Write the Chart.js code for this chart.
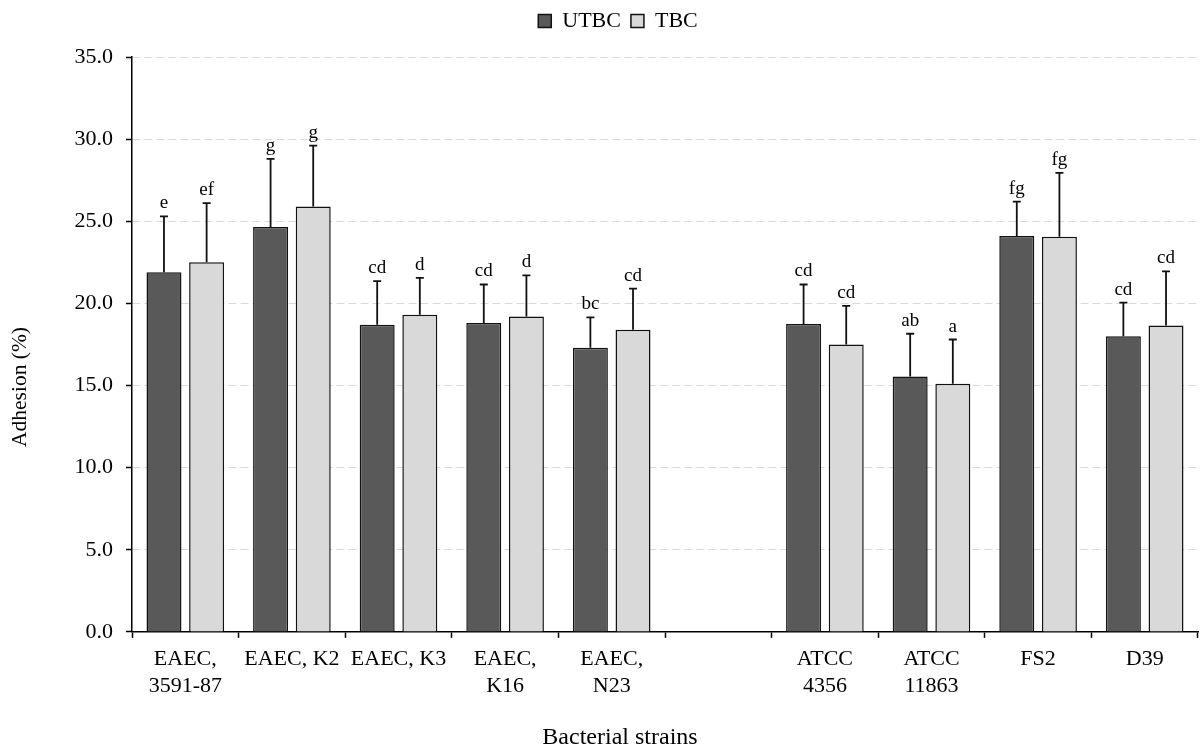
<!DOCTYPE html>
<html>
<head>
<meta charset="utf-8">
<script src="https://cdn.jsdelivr.net/npm/chart.js@4/dist/chart.umd.min.js"></script>
<style>
  body { margin: 0; background: #fff; }
  #wrap { width: 1203px; height: 751px; }
</style>
</head>
<body>
<div id="wrap"><canvas id="adhesionChart" width="1203" height="751"></canvas></div>
<script>
// strains (one empty slot separates the two groups)
const strains = [
    ['EAEC,', '3591-87'], 'EAEC, K2', 'EAEC, K3', ['EAEC,', 'K16'], ['EAEC,', 'N23'],
    '', ['ATCC', '4356'], ['ATCC', '11863'], 'FS2', 'D39'
];

// mean adhesion (%)
const utbcValues = [21.9, 24.65, 18.7, 18.8, 17.3, null, 18.75, 15.55, 24.1, 18.0];
const tbcValues  = [22.5, 25.9, 19.3, 19.2, 18.4, null, 17.5, 15.1, 24.05, 18.65];

// upper error (SD) added on top of each bar
const utbcErrors = [3.4, 4.15, 2.65, 2.35, 1.85, null, 2.4, 2.6, 2.1, 2.05];
const tbcErrors  = [3.6, 3.7, 2.25, 2.5, 2.5, null, 2.35, 2.7, 3.9, 3.3];

// significance letters
const utbcLetters = ['e', 'g', 'cd', 'cd', 'bc', '', 'cd', 'ab', 'fg', 'cd'];
const tbcLetters  = ['ef', 'g', 'd', 'd', 'cd', '', 'cd', 'a', 'fg', 'cd'];

const yTicks = [0, 5, 10, 15, 20, 25, 30, 35];

const yTitle = 'Adhesion (%)';
const xTitle = 'Bacterial strains';

const serif = '"Liberation Serif", "DejaVu Serif", serif';

// error bars + letters above them
const errorBarPlugin = {
    id: 'errorBars',
    afterDatasetsDraw(chart) {
        const ctx = chart.ctx;
        const yScale = chart.scales.y;
        const errs = [utbcErrors, tbcErrors];
        const letters = [utbcLetters, tbcLetters];
        chart.data.datasets.forEach((ds, di) => {
            const meta = chart.getDatasetMeta(di);
            meta.data.forEach((bar, i) => {
                const v = ds.data[i];
                if (v === null || v === undefined) return;
                const top = yScale.getPixelForValue(v);
                const errTop = yScale.getPixelForValue(v + errs[di][i]);
                ctx.save();
                ctx.strokeStyle = '#111';
                ctx.lineWidth = 1.8;
                ctx.beginPath();
                ctx.moveTo(bar.x, top);
                ctx.lineTo(bar.x, errTop);
                ctx.moveTo(bar.x - 4, errTop);
                ctx.lineTo(bar.x + 4, errTop);
                ctx.stroke();
                ctx.fillStyle = '#000';
                ctx.font = '19px ' + serif;
                ctx.textAlign = 'center';
                ctx.textBaseline = 'alphabetic';
                ctx.fillText(letters[di][i], bar.x, errTop - 8);
                ctx.restore();
            });
        });
    }
};

// axis titles (placed like the original, not centred on the plot)
const axisTitlePlugin = {
    id: 'axisTitles',
    afterDraw(chart) {
        const ctx = chart.ctx;
        ctx.save();
        ctx.fillStyle = '#000';
        ctx.textAlign = 'center';
        ctx.textBaseline = 'middle';
        ctx.font = '21.5px ' + serif;
        ctx.translate(20, 387);
        ctx.rotate(-Math.PI / 2);
        ctx.fillText(yTitle, 0, 0);
        ctx.restore();

        ctx.save();
        ctx.fillStyle = '#000';
        ctx.textAlign = 'center';
        ctx.textBaseline = 'middle';
        ctx.font = '24px ' + serif;
        ctx.fillText(xTitle, 620, 738);
        ctx.restore();
    }
};

const ctx = document.getElementById('adhesionChart').getContext('2d');

new Chart(ctx, {
    type: 'bar',
    data: {
        labels: strains,
        datasets: [{
            label: 'UTBC',
            data: utbcValues,
            backgroundColor: '#595959',
            borderColor: '#111',
            borderWidth: 1.5,
            categoryPercentage: 0.8,
            barPercentage: 0.82
        }, {
            label: 'TBC',
            data: tbcValues,
            backgroundColor: '#d9d9d9',
            borderColor: '#111',
            borderWidth: 1.5,
            categoryPercentage: 0.8,
            barPercentage: 0.82
        }]
    },
    options: {
        responsive: false,
        animation: false,
        layout: {
            padding: { left: 38, right: 5, top: 0, bottom: 43 }
        },
        plugins: {
            legend: {
                position: 'top',
                labels: {
                    color: '#000',
                    boxWidth: 13,
                    boxHeight: 13,
                    padding: 10,
                    font: { family: serif, size: 22 }
                }
            },
            // empty spacer between legend and plot
            title: {
                display: true,
                text: '',
                weight: 500,
                font: { size: 10, lineHeight: 1 },
                padding: { top: 0, bottom: 5 }
            },
            tooltip: { enabled: false }
        },
        scales: {
            y: {
                min: 0,
                max: 35,
                afterFit: axis => { axis.width = 94; },
                afterBuildTicks: axis => {
                    axis.ticks = yTicks.map(v => ({ value: v }));
                },
                ticks: {
                    color: '#000',
                    padding: 13,
                    font: { family: serif, size: 22 },
                    callback: v => Number(v).toFixed(1)
                },
                grid: {
                    color: c => c.tick && c.tick.value === 0 ? 'rgba(0,0,0,0)' : '#d9d9d9',
                    lineWidth: 1,
                    drawTicks: true,
                    tickLength: 6,
                    tickColor: '#000',
                    tickWidth: 1.5
                },
                border: {
                    display: true,
                    color: '#000',
                    width: 1.5,
                    dash: [8, 4]
                }
            },
            x: {
                ticks: {
                    color: '#000',
                    padding: 8,
                    maxRotation: 0,
                    autoSkip: false,
                    font: { family: serif, size: 22, lineHeight: 1.23 }
                },
                grid: {
                    drawOnChartArea: false,
                    drawTicks: true,
                    tickLength: 6,
                    tickColor: '#000',
                    tickWidth: 1.5,
                    offset: true
                },
                border: {
                    display: true,
                    color: '#000',
                    width: 1.5
                }
            }
        }
    },
    plugins: [errorBarPlugin, axisTitlePlugin]
});
</script>
</body>
</html>
